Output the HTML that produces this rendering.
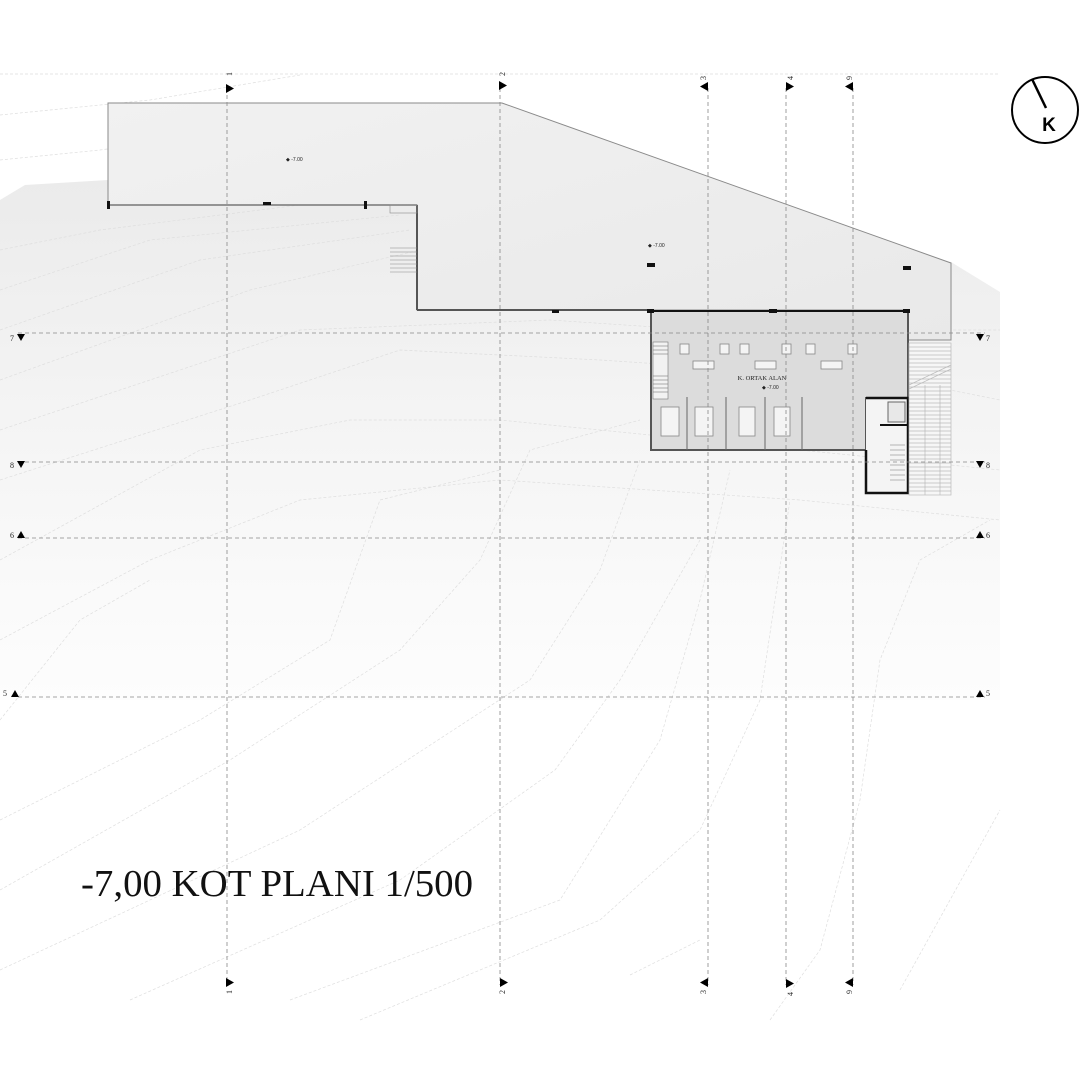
<!DOCTYPE html>
<html><head><meta charset="utf-8"><style>
html,body{margin:0;padding:0;background:#fff;}
svg{display:block;}
</style></head><body>
<svg width="1080" height="1080" viewBox="0 0 1080 1080" xmlns="http://www.w3.org/2000/svg">
<defs>
<linearGradient id="terr" x1="0" y1="0" x2="0" y2="1">
<stop offset="0" stop-color="#ebebeb"/>
<stop offset="0.5" stop-color="#f5f5f5"/>
<stop offset="1" stop-color="#fdfdfd"/>
</linearGradient>
<linearGradient id="slab" x1="0" y1="0" x2="1" y2="1">
<stop offset="0" stop-color="#f1f1f1"/>
<stop offset="1" stop-color="#e9e9e9"/>
</linearGradient>
</defs>
<rect width="1080" height="1080" fill="#fff"/>
<path d="M0,200 L25,185 L108,180 L420,200 L951,262 L1000,292 L1000,700 L0,700 Z" fill="url(#terr)"/>
<g fill="none" stroke="#dedede" stroke-width="0.7" stroke-dasharray="3,2">
<path d="M0,115 L150,100 L300,75"/>
<path d="M0,160 L100,150 L250,130"/>
<path d="M0,250 L100,230 L300,205 L420,200"/>
<path d="M0,290 L150,240 L400,215"/>
<path d="M0,330 L200,260 L410,230"/>
<path d="M0,380 L250,290 L420,250"/>
<path d="M0,430 L300,330 L550,320 L700,330 L1000,330"/>
<path d="M0,480 L250,400 L400,350 L600,360 L900,380 L1000,400"/>
<path d="M0,560 L200,450 L350,420 L500,420 L700,440 L1000,470"/>
<path d="M0,640 L150,560 L300,500 L500,480 L800,500 L1000,520"/>
<path d="M0,720 L80,620 L150,580"/>
<path d="M0,820 L200,720 L330,640 L380,500 L500,470"/>
<path d="M0,890 L230,760 L400,650 L480,560 L530,450 L640,420"/>
<path d="M0,970 L300,830 L530,680 L600,570 L640,460"/>
<path d="M130,1000 L400,880 L555,770 L620,680 L700,540"/>
<path d="M290,1000 L560,900 L660,740 L700,600 L730,470"/>
<path d="M360,1020 L600,920 L700,830 L760,700 L790,500"/>
<path d="M630,975 L700,940"/>
<path d="M770,1020 L820,950 L860,800 L880,660 L920,560 L990,520"/>
<path d="M900,990 L1000,810"/>
<path d="M0,74 L1000,74"/>
</g>
<path d="M108,103 L502,103 L951,263 L951,340 L908,340 L908,310 L417,310 L417,205 L108,205 Z" fill="url(#slab)" stroke="#8a8a8a" stroke-width="1"/>
<line x1="417" y1="205" x2="417" y2="310" stroke="#555" stroke-width="2"/>
<line x1="417" y1="310" x2="651" y2="310" stroke="#555" stroke-width="2"/>
<line x1="108" y1="205" x2="417" y2="205" stroke="#777" stroke-width="1.5"/>
<g fill="#111">
<rect x="107" y="201" width="3" height="8"/><rect x="263" y="202" width="8" height="3"/><rect x="364" y="201" width="3" height="8"/>
<rect x="552" y="310" width="7" height="3"/><rect x="647" y="263" width="8" height="4"/><rect x="903" y="266" width="8" height="4"/>
</g>
<g stroke="#888" stroke-width="0.6">
<rect x="390" y="205" width="27" height="8" fill="none"/>
<line x1="390" y1="248" x2="417" y2="248"/><line x1="390" y1="252" x2="417" y2="252"/><line x1="390" y1="256" x2="417" y2="256"/><line x1="390" y1="260" x2="417" y2="260"/><line x1="390" y1="264" x2="417" y2="264"/><line x1="390" y1="268" x2="417" y2="268"/><line x1="390" y1="272" x2="417" y2="272"/>
</g>
<path d="M651,311 L908,311 L908,398 L866,398 L866,450 L651,450 Z" fill="#dcdcdc" stroke="#555" stroke-width="2"/>
<rect x="866" y="398" width="42" height="95" fill="#f4f4f4" stroke="none"/>
<path d="M866,398 L908,398 L908,493 L866,493 L866,450" fill="none" stroke="#111" stroke-width="2.5"/>
<line x1="880" y1="425" x2="908" y2="425" stroke="#111" stroke-width="2"/>
<rect x="888" y="402" width="17" height="20" fill="#e8e8e8" stroke="#666"/>
<g stroke="#888" stroke-width="0.6">
<line x1="890" y1="445" x2="905" y2="445"/><line x1="890" y1="450" x2="905" y2="450"/><line x1="890" y1="455" x2="905" y2="455"/><line x1="890" y1="460" x2="905" y2="460"/><line x1="890" y1="465" x2="905" y2="465"/><line x1="890" y1="470" x2="905" y2="470"/><line x1="890" y1="475" x2="905" y2="475"/><line x1="890" y1="480" x2="905" y2="480"/>
</g>
<line x1="651" y1="311" x2="908" y2="311" stroke="#111" stroke-width="2"/>
<g fill="#111"><rect x="647" y="309" width="7" height="4"/><rect x="769" y="309" width="8" height="4"/><rect x="903" y="309" width="7" height="4"/></g>
<g stroke="#777" stroke-width="0.6" fill="#f2f2f2">
<rect x="653" y="342" width="15" height="57"/>
<line x1="653" y1="346" x2="668" y2="346"/><line x1="653" y1="350" x2="668" y2="350"/><line x1="653" y1="354" x2="668" y2="354"/><line x1="653" y1="376" x2="668" y2="376"/><line x1="653" y1="380" x2="668" y2="380"/><line x1="653" y1="384" x2="668" y2="384"/><line x1="653" y1="388" x2="668" y2="388"/><line x1="653" y1="392" x2="668" y2="392"/>
</g>
<g fill="#f4f4f4" stroke="#888" stroke-width="0.8">
<rect x="680" y="344" width="9" height="10"/><rect x="720" y="344" width="9" height="10"/><rect x="740" y="344" width="9" height="10"/><rect x="782" y="344" width="9" height="10"/><rect x="806" y="344" width="9" height="10"/><rect x="848" y="344" width="9" height="10"/>
<rect x="693" y="361" width="21" height="8"/><rect x="755" y="361" width="21" height="8"/><rect x="821" y="361" width="21" height="8"/>
<rect x="661" y="407" width="18" height="29"/><rect x="695" y="407" width="18" height="29"/><rect x="739" y="407" width="16" height="29"/><rect x="774" y="407" width="16" height="29"/>
</g>
<g stroke="#666" stroke-width="1"><line x1="687" y1="397" x2="687" y2="450"/><line x1="726" y1="397" x2="726" y2="450"/><line x1="765" y1="397" x2="765" y2="450"/><line x1="802" y1="397" x2="802" y2="450"/></g>
<text x="762" y="380" font-family="Liberation Serif, serif" font-size="6.5" text-anchor="middle" fill="#222">K. ORTAK ALAN</text>
<text x="286" y="161" font-family="Liberation Sans, sans-serif" font-size="5" fill="#222">◆ -7.00</text>
<text x="648" y="247" font-family="Liberation Sans, sans-serif" font-size="5" fill="#222">◆ -7.00</text>
<text x="762" y="389" font-family="Liberation Sans, sans-serif" font-size="5" fill="#222">◆ -7.00</text>
<g stroke="#bbb" stroke-width="0.7">
<rect x="909" y="343" width="42" height="152" fill="#f6f6f6"/>
<path d="M909,347H951M909,351H951M909,355H951M909,359H951M909,363H951M909,367H951M909,371H951M909,375H951M909,379H951M909,383H951M909,387H951M909,391H951M909,395H951M909,399H951M909,403H951M909,407H951M909,411H951M909,415H951M909,419H951M909,423H951M909,427H951M909,431H951M909,435H951M909,439H951M909,443H951M909,447H951M909,451H951M909,455H951M909,459H951M909,463H951M909,467H951M909,471H951M909,475H951M909,479H951M909,483H951M909,487H951M909,491H951"/>
<line x1="909" y1="385" x2="951" y2="365"/><line x1="909" y1="389" x2="951" y2="369"/>
<line x1="925" y1="385" x2="925" y2="495"/><line x1="940" y1="385" x2="940" y2="495"/>
</g>
<g stroke="#888" stroke-width="0.8" stroke-dasharray="4,3" fill="none">
<line x1="227" y1="88" x2="227" y2="985"/>
<line x1="500" y1="88" x2="500" y2="985"/>
<line x1="708" y1="88" x2="708" y2="985"/>
<line x1="786" y1="88" x2="786" y2="985"/>
<line x1="853" y1="88" x2="853" y2="985"/>
<line x1="18" y1="333" x2="985" y2="333"/>
<line x1="18" y1="462" x2="985" y2="462"/>
<line x1="18" y1="538" x2="985" y2="538"/>
<line x1="18" y1="697" x2="985" y2="697"/>
</g>
<g fill="#000">
<path d="M226,84 L234,88.5 L226,93Z"/><path d="M499,81 L507,85.5 L499,90Z"/><path d="M708,82 L700,86.5 L708,91Z"/><path d="M786,82 L794,86.5 L786,91Z"/><path d="M853,82 L845,86.5 L853,91Z"/>
<path d="M226,978 L234,982.5 L226,987Z"/><path d="M500,978 L508,982.5 L500,987Z"/><path d="M708,978 L700,982.5 L708,987Z"/><path d="M786,979 L794,983.5 L786,988Z"/><path d="M853,978 L845,982.5 L853,987Z"/>
<path d="M17,334 L25,334 L21,341Z"/><path d="M976,334 L984,334 L980,341Z"/>
<path d="M17,461 L25,461 L21,468Z"/><path d="M976,461 L984,461 L980,468Z"/>
<path d="M17,538 L25,538 L21,531Z"/><path d="M976,538 L984,538 L980,531Z"/>
<path d="M11,697 L19,697 L15,690Z"/><path d="M976,697 L984,697 L980,690Z"/>
</g>
<g font-family="Liberation Serif, serif" font-size="8" fill="#222">
<text x="10" y="341">7</text><text x="986" y="341">7</text>
<text x="10" y="468">8</text><text x="986" y="468">8</text>
<text x="10" y="538">6</text><text x="986" y="538">6</text>
<text x="3" y="696">5</text><text x="986" y="696">5</text>
<text transform="translate(232,76) rotate(-90)">1</text>
<text transform="translate(505,76) rotate(-90)">2</text>
<text transform="translate(706,80) rotate(-90)">3</text>
<text transform="translate(793,80) rotate(-90)">4</text>
<text transform="translate(852,80) rotate(-90)">9</text>
<text transform="translate(232,990) rotate(-90)" text-anchor="end">1</text>
<text transform="translate(505,990) rotate(-90)" text-anchor="end">2</text>
<text transform="translate(706,990) rotate(-90)" text-anchor="end">3</text>
<text transform="translate(793,992) rotate(-90)" text-anchor="end">4</text>
<text transform="translate(852,990) rotate(-90)" text-anchor="end">9</text>
</g>
<circle cx="1045" cy="110" r="33" fill="#fff" stroke="#000" stroke-width="2"/>
<line x1="1032" y1="79" x2="1046" y2="108" stroke="#000" stroke-width="2.5"/>
<text x="1049" y="131" font-family="Liberation Sans, sans-serif" font-weight="bold" font-size="19" text-anchor="middle" fill="#000">K</text>
<text x="81" y="896" font-family="Liberation Serif, serif" font-size="38" textLength="392" lengthAdjust="spacingAndGlyphs" fill="#111">-7,00 KOT PLANI 1/500</text>
</svg>
</body></html>
